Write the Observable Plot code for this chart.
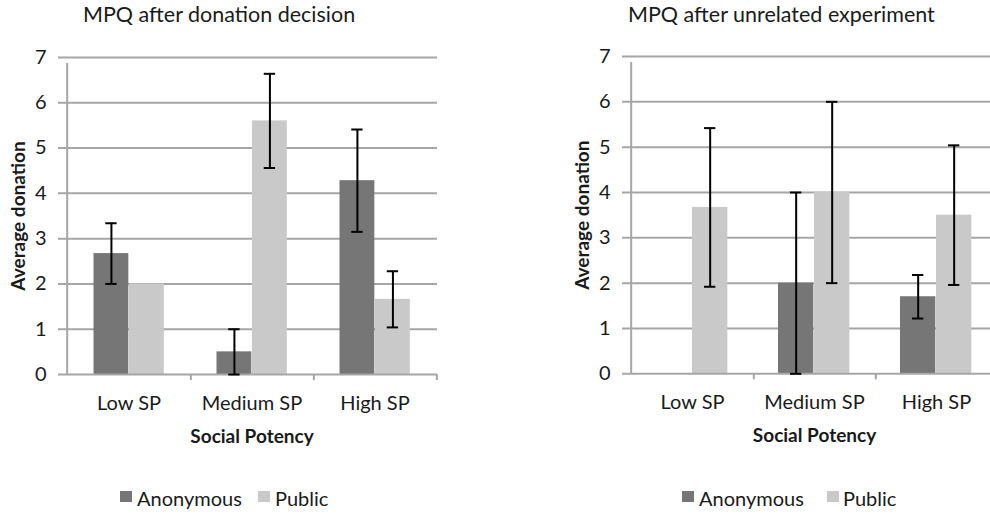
<!DOCTYPE html>
<html>
<head>
<meta charset="utf-8">
<script src="https://cdn.jsdelivr.net/npm/d3@7"></script>
<script src="https://cdn.jsdelivr.net/npm/@observablehq/plot@0.6"></script>
<style>
  html, body { margin: 0; padding: 0; background: #fff; }
  body { width: 990px; height: 514px; position: relative; overflow: hidden; font-family: Lato, "Open Sans", sans-serif; color: #1a1a1a; }
  .abs { position: absolute; }
  .title { font-size: 21.5px; line-height: 21.5px; white-space: nowrap; }
  .leg { font-size: 20px; line-height: 20px; white-space: nowrap; }
  .sw { width: 12px; height: 11px; }
  #right { left: 495px; top: 0; width: 495px; height: 514px; overflow: hidden; }
  #left { left: 0; top: 0; width: 495px; height: 514px; overflow: hidden; }
  svg { max-width: none !important; }
</style>
</head>
<body>
<div id="left" class="abs"></div>
<div id="right" class="abs"></div>
<script>
// ---- data ----
const categories = ["Low SP", "Medium SP", "High SP"];
const seriesNames = ["Anonymous", "Public"];
const yTicks = [0, 1, 2, 3, 4, 5, 6, 7];

const leftTitle = "MPQ after donation decision";
const leftAnonymous = [2.67, 0.5, 4.28];
const leftAnonymousErr = [0.67, 0.5, 1.13];
const leftPublic = [2.0, 5.6, 1.66];
const leftPublicErr = [0, 1.04, 0.62];

const rightTitle = "MPQ after unrelated experiment";
const rightAnonymous = [0, 2.0, 1.7];
const rightAnonymousErr = [0, 2.0, 0.48];
const rightPublic = [3.67, 4.0, 3.5];
const rightPublicErr = [1.75, 2.0, 1.54];

const yLabel = "Average donation";
const xLabel = "Social Potency";

// ---- styling ----
const colors = ["#767676", "#c9c9c9"];
const gridColor = "#a6a6a6";
const FONT = "Lato, 'Open Sans', sans-serif";

function panel(cfg) {
  const rows = categories.flatMap((c, i) => [
    {cat: c, series: "Anonymous", v: cfg.anon[i], e: cfg.anonErr[i]},
    {cat: c, series: "Public", v: cfg.pub[i], e: cfg.pubErr[i]}
  ]);
  const bw = (cfg.width - cfg.marginLeft - cfg.marginRight) / categories.length;
  const g0 = cfg.groupStart, barW = cfg.barW;
  const inset = {
    Anonymous: {insetLeft: g0, insetRight: bw - g0 - barW},
    Public: {insetLeft: g0 + barW, insetRight: bw - g0 - 2 * barW}
  };
  const off = {
    Anonymous: g0 + barW / 2 - bw / 2,
    Public: g0 + 1.5 * barW - bw / 2
  };
  const capW = 12;
  const marks = [
    Plot.gridY(yTicks.filter(d => d > 0), {stroke: gridColor, strokeOpacity: 1, strokeWidth: 2, insetLeft: -8}),
    Plot.axisY({ticks: yTicks, tickSize: 0, tickPadding: 20, fontSize: 20, label: null, tickFormat: d => String(d)}),
    Plot.axisX({tickSize: 0, tickPadding: 21, fontSize: 20, label: null})
  ];
  for (const s of seriesNames) {
    const d = rows.filter(r => r.series === s);
    marks.push(Plot.barY(d, {x: "cat", y: "v", fill: "series", ...inset[s]}));
  }
  // axis lines
  marks.push(Plot.ruleY([0], {stroke: gridColor, strokeWidth: 2, insetLeft: -8}));
  marks.push(Plot.ruleX([categories[0]], {x: d => d, y1: 0, y2: yTicks[yTicks.length - 1], dx: -bw / 2, stroke: gridColor, strokeWidth: 2, insetBottom: -6}));
  marks.push(Plot.ruleX(categories, {x: d => d, y1: 0, y2: 0, dx: bw / 2, stroke: gridColor, strokeWidth: 2, insetBottom: -6}));
  // error bars
  for (const s of seriesNames) {
    const d = rows.filter(r => r.series === s && r.e > 0);
    marks.push(Plot.ruleX(d, {x: "cat", y1: r => r.v - r.e, y2: r => r.v + r.e, dx: off[s], stroke: "#000", strokeWidth: 2}));
    marks.push(Plot.tickY(d, {x: "cat", y: r => r.v + r.e, dx: off[s], stroke: "#000", strokeWidth: 2, insetLeft: (bw - capW) / 2, insetRight: (bw - capW) / 2}));
    marks.push(Plot.tickY(d, {x: "cat", y: r => r.v - r.e, dx: off[s], stroke: "#000", strokeWidth: 2, insetLeft: (bw - capW) / 2, insetRight: (bw - capW) / 2}));
  }
  // axis titles
  marks.push(Plot.text([yLabel], {text: d => d, frameAnchor: "left", textAnchor: "middle", lineAnchor: "middle", rotate: -90, dx: -48, fontWeight: "bold", fontSize: 19}));
  marks.push(Plot.text([xLabel], {text: d => d, frameAnchor: "bottom", textAnchor: "middle", lineAnchor: "middle", dy: 62, fontWeight: "bold", fontSize: 19}));

  return Plot.plot({
    width: cfg.width,
    height: cfg.height,
    marginLeft: cfg.marginLeft,
    marginRight: cfg.marginRight,
    marginTop: cfg.marginTop,
    marginBottom: cfg.marginBottom,
    style: {fontFamily: FONT, fontSize: "20px", color: "#1a1a1a", background: "transparent", overflow: "visible", maxWidth: "none"},
    x: {type: "band", domain: categories, padding: 0},
    y: {domain: [0, 7]},
    color: {domain: seriesNames, range: colors},
    marks
  });
}

function addTitle(parent, text, left) {
  const t = document.createElement("div");
  t.className = "abs title";
  t.style.left = left + "px";
  t.style.top = "4px";
  t.textContent = text;
  parent.appendChild(t);
}

function addLegend(parent, items) {
  items.forEach((it, i) => {
    const sw = document.createElement("div");
    sw.className = "abs sw";
    sw.style.left = it.sq + "px";
    sw.style.top = "491px";
    sw.style.background = colors[i];
    parent.appendChild(sw);
    const tx = document.createElement("div");
    tx.className = "abs leg";
    tx.style.left = it.tx + "px";
    tx.style.top = "488px";
    tx.textContent = seriesNames[i];
    parent.appendChild(tx);
  });
}

const leftEl = document.getElementById("left");
const rightEl = document.getElementById("right");

const p1 = panel({anon: leftAnonymous, anonErr: leftAnonymousErr, pub: leftPublic, pubErr: leftPublicErr,
  width: 495, height: 460, marginLeft: 66, marginRight: 58, marginTop: 57, marginBottom: 86, groupStart: 26.5, barW: 35.5});
p1.style.position = "absolute"; p1.style.left = "0px"; p1.style.top = "0px";
leftEl.appendChild(p1);
addTitle(leftEl, leftTitle, 83);
addLegend(leftEl, [{sq: 120, tx: 137}, {sq: 258, tx: 275}]);

const p2 = panel({anon: rightAnonymous, anonErr: rightAnonymousErr, pub: rightPublic, pubErr: rightPublicErr,
  width: 503, height: 460, marginLeft: 135, marginRight: 0, marginTop: 56, marginBottom: 86.7, groupStart: 25, barW: 36});
p2.style.position = "absolute"; p2.style.left = "0px"; p2.style.top = "0px"; p2.style.maxWidth = "none";
rightEl.appendChild(p2);
addTitle(rightEl, rightTitle, 133);
addLegend(rightEl, [{sq: 187, tx: 204}, {sq: 332, tx: 348}]);
</script>
</body>
</html>
